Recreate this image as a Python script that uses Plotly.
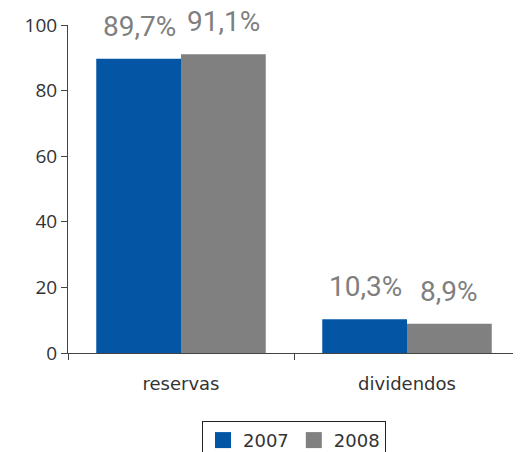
import plotly.graph_objects as go

categories = ["reservas", "dividendos"]
series_names = ["2007", "2008"]
values_2007 = [89.7, 10.3]
values_2008 = [91.1, 8.9]
labels_2007 = ["89,7%", "10,3%"]
labels_2008 = ["91,1%", "8,9%"]
y_ticks = [0, 20, 40, 60, 80, 100]

blue = "#0455A4"
grey = "#808080"

fig = go.Figure()
fig.add_trace(go.Bar(x=categories, y=values_2007, name=series_names[0], showlegend=False,
                     marker=dict(color=blue, line=dict(width=0))))
fig.add_trace(go.Bar(x=categories, y=values_2008, name=series_names[1], showlegend=False,
                     marker=dict(color=grey, line=dict(width=0))))
# legend entries with larger square swatches
for name, col in zip(series_names, (blue, grey)):
    fig.add_trace(go.Scatter(x=[None], y=[None], mode="markers", name=name,
                             marker=dict(symbol="square", size=17, color=col)))

for i, cat in enumerate(categories):
    for vals, labs, shift in ((values_2007, labels_2007, -42), (values_2008, labels_2008, 42)):
        fig.add_annotation(x=cat, y=vals[i], text=labs[i], showarrow=False,
                           xref="x", yref="y", xshift=shift, yshift=15,
                           yanchor="bottom", borderpad=0,
                           font=dict(family="Roboto", size=28, color="#7f7f7f"))

fig.update_layout(
    width=521, height=452,
    margin=dict(l=60, r=9, t=17, b=107, autoexpand=False),
    paper_bgcolor="white", plot_bgcolor="white",
    barmode="group", bargap=0.25, bargroupgap=0,
    font=dict(family="Open Sans", color="#333333"),
    showlegend=True,
    legend=dict(orientation="h", x=0.5, xanchor="center", y=-0.207, yanchor="top",
                bordercolor="#222222", borderwidth=1, bgcolor="white",
                font=dict(family="DejaVu Sans", size=18, color="#333333"), itemwidth=30,
                traceorder="normal"),
)
fig.update_xaxes(showline=True, linecolor="#444444", linewidth=1, automargin=False,
                 ticks="outside", tickson="boundaries", ticklen=6, tickcolor="#444444",
                 ticklabelstandoff=14,
                 tickfont=dict(family="DejaVu Sans", size=18, color="#333333"), showgrid=False)
fig.update_yaxes(range=[0, 100], tickvals=y_ticks, showline=True, linecolor="#444444",
                 linewidth=1, ticks="outside", ticklen=6, tickcolor="#444444", automargin=False,
                 tickfont=dict(family="Open Sans", size=19, color="#333333"),
                 showgrid=False, zeroline=False)

fig.write_html("out.html")
